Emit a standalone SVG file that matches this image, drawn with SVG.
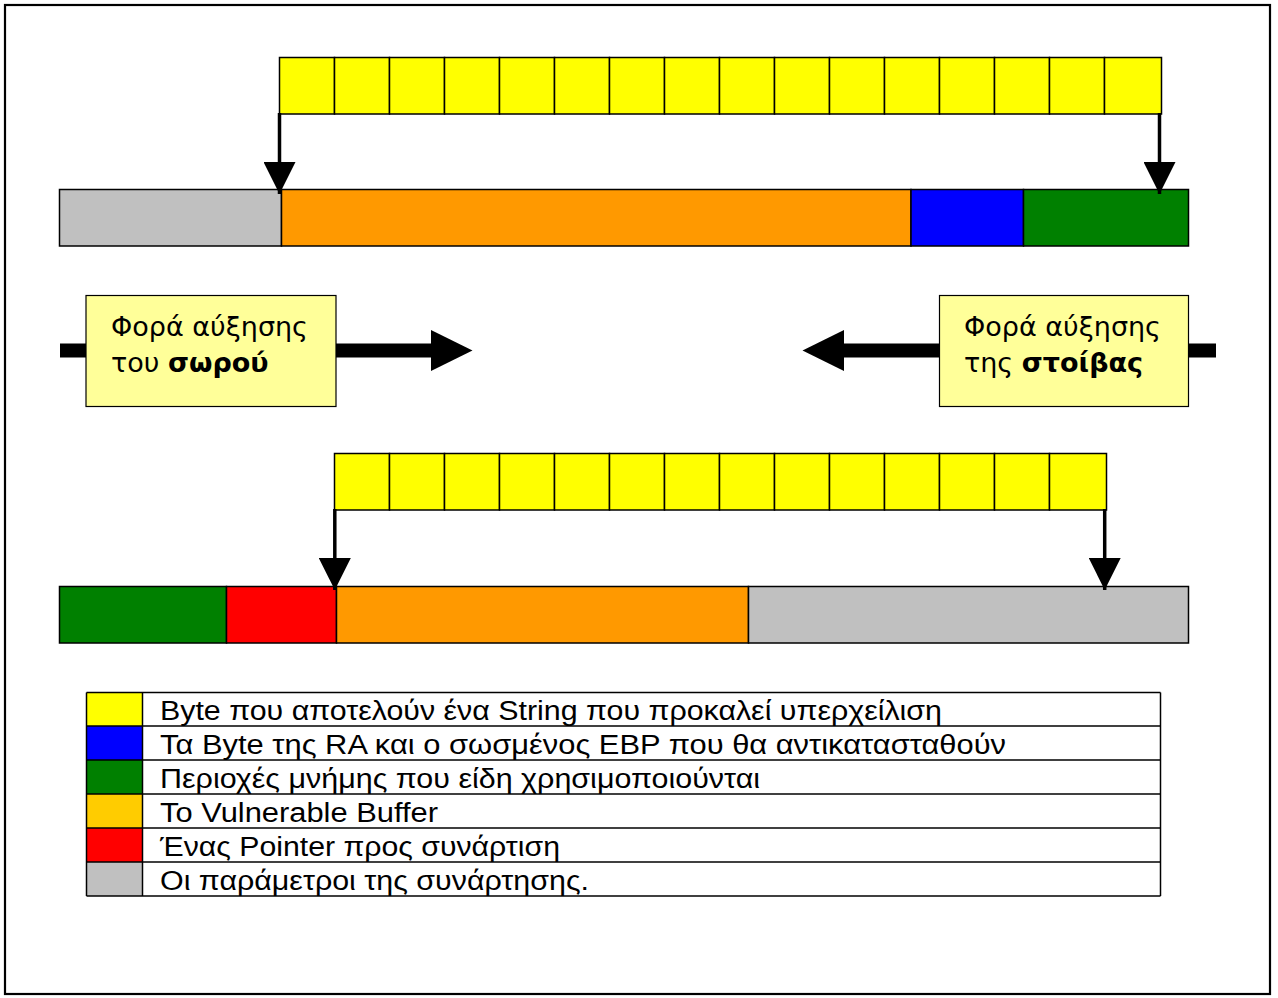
<svg xmlns="http://www.w3.org/2000/svg" width="1278" height="998" viewBox="0 0 1278 998">
<style>
.cell{fill:#FFFF00;stroke:#000;stroke-width:1.5}
.seg{stroke:#000;stroke-width:1.5}
.box{fill:#FFFF99;stroke:#000;stroke-width:1.2}
.bt{font-family:"DejaVu Sans",sans-serif;font-size:27px;fill:#000}
.lt{font-family:"Liberation Sans",Arial,sans-serif;font-size:27px;fill:#000}
.ln{stroke:#000;stroke-width:1.5}
.arr{stroke:#000;stroke-width:3.5;marker-end:url(#ah)}
</style>
<defs>
<marker id="ah" markerUnits="userSpaceOnUse" markerWidth="32" markerHeight="32" refX="32" refY="16" orient="auto" viewBox="0 0 32 32">
<path d="M0,0 L32,16 L0,32 Z" fill="#000"/>
</marker>
</defs>
<rect x="0" y="0" width="1278" height="998" fill="#fff"/>
<rect x="5" y="5" width="1265" height="989" fill="none" stroke="#000" stroke-width="2.2"/>

<g id="top-string">
<rect class="cell" x="279.5" y="57.5" width="55" height="56.5"/>
<rect class="cell" x="334.5" y="57.5" width="55" height="56.5"/>
<rect class="cell" x="389.5" y="57.5" width="55" height="56.5"/>
<rect class="cell" x="444.5" y="57.5" width="55" height="56.5"/>
<rect class="cell" x="499.5" y="57.5" width="55" height="56.5"/>
<rect class="cell" x="554.5" y="57.5" width="55" height="56.5"/>
<rect class="cell" x="609.5" y="57.5" width="55" height="56.5"/>
<rect class="cell" x="664.5" y="57.5" width="55" height="56.5"/>
<rect class="cell" x="719.5" y="57.5" width="55" height="56.5"/>
<rect class="cell" x="774.5" y="57.5" width="55" height="56.5"/>
<rect class="cell" x="829.5" y="57.5" width="55" height="56.5"/>
<rect class="cell" x="884.5" y="57.5" width="55" height="56.5"/>
<rect class="cell" x="939.5" y="57.5" width="55" height="56.5"/>
<rect class="cell" x="994.5" y="57.5" width="55" height="56.5"/>
<rect class="cell" x="1049.5" y="57.5" width="55" height="56.5"/>
<rect class="cell" x="1104.5" y="57.5" width="57" height="56.5"/>
</g>

<g id="top-bar">
<rect class="seg" x="59.5" y="189.5" width="222" height="56.5" fill="#C0C0C0"/>
<rect class="seg" x="281.5" y="189.5" width="629.5" height="56.5" fill="#FF9900"/>
<rect class="seg" x="911" y="189.5" width="112.5" height="56.5" fill="#0000FF"/>
<rect class="seg" x="1023.5" y="189.5" width="165" height="56.5" fill="#008000"/>
</g>

<g id="heap-box">
<rect class="box" x="86" y="295.5" width="250" height="111"/>
<text class="bt" x="111" y="336">Φορά αύξησης</text>
<text class="bt" x="111" y="372">του <tspan font-weight="bold">σωρού</tspan></text>
</g>

<g id="stack-box">
<rect class="box" x="939.5" y="295.5" width="249" height="111"/>
<text class="bt" x="964" y="336">Φορά αύξησης</text>
<text class="bt" x="964" y="372">της <tspan font-weight="bold">στοίβας</tspan></text>
</g>

<g id="bottom-string">
<rect class="cell" x="334.5" y="453.5" width="55" height="56.5"/>
<rect class="cell" x="389.5" y="453.5" width="55" height="56.5"/>
<rect class="cell" x="444.5" y="453.5" width="55" height="56.5"/>
<rect class="cell" x="499.5" y="453.5" width="55" height="56.5"/>
<rect class="cell" x="554.5" y="453.5" width="55" height="56.5"/>
<rect class="cell" x="609.5" y="453.5" width="55" height="56.5"/>
<rect class="cell" x="664.5" y="453.5" width="55" height="56.5"/>
<rect class="cell" x="719.5" y="453.5" width="55" height="56.5"/>
<rect class="cell" x="774.5" y="453.5" width="55" height="56.5"/>
<rect class="cell" x="829.5" y="453.5" width="55" height="56.5"/>
<rect class="cell" x="884.5" y="453.5" width="55" height="56.5"/>
<rect class="cell" x="939.5" y="453.5" width="55" height="56.5"/>
<rect class="cell" x="994.5" y="453.5" width="55" height="56.5"/>
<rect class="cell" x="1049.5" y="453.5" width="57" height="56.5"/>
</g>

<g id="bottom-bar">
<rect class="seg" x="59.5" y="586.5" width="167" height="56.5" fill="#008000"/>
<rect class="seg" x="226.5" y="586.5" width="110" height="56.5" fill="#FF0000"/>
<rect class="seg" x="336.5" y="586.5" width="412" height="56.5" fill="#FF9900"/>
<rect class="seg" x="748.5" y="586.5" width="440" height="56.5" fill="#C0C0C0"/>
</g>

<g id="connectors">
<line class="arr" x1="279.5" y1="113" x2="279.5" y2="194"/>
<line class="arr" x1="1159.5" y1="113" x2="1159.5" y2="194"/>
<line class="arr" x1="334.8" y1="509" x2="334.8" y2="590"/>
<line class="arr" x1="1104.7" y1="509" x2="1104.7" y2="590"/>
<rect x="60" y="343.5" width="26" height="14" fill="#000"/>
<rect x="336" y="343.5" width="96" height="14" fill="#000"/>
<path d="M431,330 L472.5,350.5 L431,371 Z" fill="#000"/>
<rect x="843" y="343.5" width="96.5" height="14" fill="#000"/>
<path d="M844,330 L802.5,350.5 L844,371 Z" fill="#000"/>
<rect x="1188.5" y="343.5" width="27.5" height="14" fill="#000"/>
</g>

<g id="legend">
<rect x="86.5" y="692.5" width="56" height="33.5" fill="#FFFF00"/>
<rect x="86.5" y="726" width="56" height="34" fill="#0000FF"/>
<rect x="86.5" y="760" width="56" height="34" fill="#008000"/>
<rect x="86.5" y="794" width="56" height="34" fill="#FFCC00"/>
<rect x="86.5" y="828" width="56" height="34" fill="#FF0000"/>
<rect x="86.5" y="862" width="56" height="34" fill="#C0C0C0"/>
<line class="ln" x1="86.5" y1="692.5" x2="1160.5" y2="692.5"/>
<line class="ln" x1="86.5" y1="726" x2="1160.5" y2="726"/>
<line class="ln" x1="86.5" y1="760" x2="1160.5" y2="760"/>
<line class="ln" x1="86.5" y1="794" x2="1160.5" y2="794"/>
<line class="ln" x1="86.5" y1="828" x2="1160.5" y2="828"/>
<line class="ln" x1="86.5" y1="862" x2="1160.5" y2="862"/>
<line class="ln" x1="86.5" y1="896" x2="1160.5" y2="896"/>
<line class="ln" x1="86.5" y1="692.5" x2="86.5" y2="896"/>
<line class="ln" x1="142.5" y1="692.5" x2="142.5" y2="896"/>
<line class="ln" x1="1160.5" y1="692.5" x2="1160.5" y2="896"/>
<text class="lt" x="160" y="720" textLength="782" lengthAdjust="spacingAndGlyphs">Byte που αποτελούν ένα String που προκαλεί υπερχείλιση</text>
<text class="lt" x="160" y="754" textLength="846" lengthAdjust="spacingAndGlyphs">Τα Byte της RA και ο σωσμένος  EBP που θα αντικατασταθούν</text>
<text class="lt" x="160" y="788" textLength="600" lengthAdjust="spacingAndGlyphs">Περιοχές μνήμης που είδη χρησιμοποιούνται</text>
<text class="lt" x="160" y="822" textLength="278" lengthAdjust="spacingAndGlyphs">Το Vulnerable Buffer</text>
<text class="lt" x="160" y="856" textLength="400" lengthAdjust="spacingAndGlyphs">Ένας Pointer προς συνάρτιση</text>
<text class="lt" x="160" y="890" textLength="429" lengthAdjust="spacingAndGlyphs">Οι παράμετροι της συνάρτησης.</text>
</g>
</svg>
